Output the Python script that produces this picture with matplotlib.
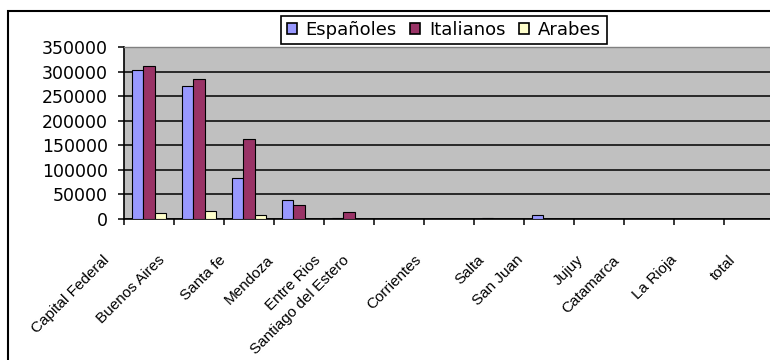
import matplotlib
matplotlib.use("Agg")
import matplotlib.pyplot as plt
import matplotlib.font_manager as fm
import matplotlib.transforms as mtransforms
from matplotlib.patches import Rectangle, Patch
from matplotlib.ticker import FixedLocator, StrMethodFormatter
import numpy as np

categories = ["Capital Federal", "Buenos Aires", "Santa fe", "Mendoza", "Entre Rios",
              "Santiago del Estero", "Corrientes", "Salta", "San Juan", "Jujuy",
              "Catamarca", "La Rioja", "total"]
series_names = ["Españoles", "Italianos", "Arabes"]
espanoles = [303000, 271000, 84000, 39500, 2500, 1000, 1000, 2500, 8000, 800, 300, 200, 0]
italianos = [312000, 284000, 162000, 28000, 15000, 500, 300, 600, 500, 200, 100, 100, 0]
arabes = [11500, 15500, 7500, 400, 300, 200, 100, 200, 300, 100, 100, 100, 0]
yticks = [0, 50000, 100000, 150000, 200000, 250000, 300000, 350000]

colors = ["#9999FF", "#993366", "#FFFFCC"]

W, H, DPI = 770, 360, 100
fig = plt.figure(figsize=(W / DPI, H / DPI), dpi=DPI)
fig.patch.set_facecolor("white")

xfont = "Liberation Sans"
xsize = 11
mainfont = "DejaVu Sans"

# outer chart frame
fig.patches.append(Rectangle((8 / W, -0.2), 1.5, (H - 11) / H + 0.2, transform=fig.transFigure,
                             fill=False, lw=1.5, ec="black", zorder=0))

left, right, top, bottom = 124 / W, 774 / W, 1 - 47 / H, 1 - 219 / H
ax = fig.add_axes([left, bottom, right - left, top - bottom])
ax.set_facecolor("#C0C0C0")

x = np.arange(len(categories))
bw = 0.227
series = [espanoles, italianos, arabes]
for k, (vals, c) in enumerate(zip(series, colors)):
    ax.bar(x + (k - 1) * bw, vals, bw, color=c, edgecolor="black", linewidth=0.8, zorder=3)

ax.set_xlim(-0.5, len(categories) - 0.5)
ax.set_ylim(0, 350000)
ax.yaxis.set_major_locator(FixedLocator(yticks))
ax.yaxis.set_major_formatter(StrMethodFormatter("{x:.0f}"))
ax.grid(axis="y", color="black", linewidth=1.1)
ax.set_axisbelow(True)
ax.xaxis.set_major_locator(FixedLocator(np.arange(len(categories) + 1) - 0.5))
ax.set_xticklabels([])
ax.tick_params(axis="x", length=4, width=1.1, color="black", direction="out")
ax.tick_params(axis="y", length=4.5, width=1.1, color="black", direction="out", pad=7,
               labelsize=12.5)
for lab in ax.get_yticklabels():
    lab.set_fontfamily(mainfont)
for s in ["left", "bottom"]:
    ax.spines[s].set_color("black")
    ax.spines[s].set_linewidth(1.2)
for s in ["top", "right"]:
    ax.spines[s].set_color("#808080")
    ax.spines[s].set_linewidth(1.0)

# category labels, rotated
fig.canvas.draw()
renderer = fig.canvas.get_renderer()
c45 = np.cos(np.pi / 4)
prop = fm.FontProperties(family=xfont, size=xsize)
base = mtransforms.blended_transform_factory(ax.transData, ax.transAxes)
for i, name in enumerate(categories):
    wpx, _, _ = renderer.get_text_width_height_descent(name, prop, ismath=False)
    dx = -(10 + 0.5 * wpx * c45)
    off = mtransforms.ScaledTranslation(dx / DPI, -34 / DPI, fig.dpi_scale_trans)
    ax.text(i, 0, name, transform=base + off, rotation=45, rotation_mode="anchor",
            ha="right", va="top", fontproperties=prop, clip_on=False)

handles = [Patch(facecolor=c, edgecolor="black", linewidth=1.2) for c in colors]
leg = fig.legend(handles, series_names, ncol=3, loc="center",
                 bbox_to_anchor=(444 / W, 1 - 30 / H), frameon=True, fancybox=False,
                 framealpha=1, edgecolor="black", borderpad=0.3, handlelength=0.55,
                 handleheight=0.55, handletextpad=0.5, columnspacing=0.75,
                 prop={"family": mainfont, "size": 13})
leg.get_frame().set_linewidth(1.2)

fig.savefig("out.png", dpi=DPI)
